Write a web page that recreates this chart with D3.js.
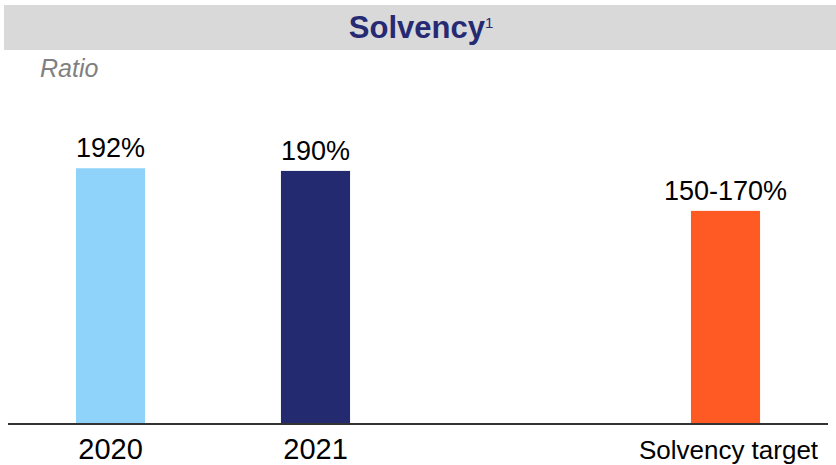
<!DOCTYPE html>
<html>
<head>
<meta charset="utf-8">
<script src="https://cdn.jsdelivr.net/npm/d3@7"></script>
<style>
  html, body { margin: 0; padding: 0; background: #ffffff; }
  svg { display: block; font-family: "Liberation Sans", Arial, sans-serif; }
</style>
</head>
<body>
<svg id="chart" width="836" height="465"></svg>
<script>
// Solvency ratio by period
const categories = ["2020", "2021", "", "Solvency target"];
const values = [192, 190, null, 160];
const valueLabels = ["192%", "190%", "", "150-170%"];
const barColors = ["#8fd3fb", "#232a70", null, "#ff5a24"];

const title = "Solvency";
const titleNote = "1";
const unitLabel = "Ratio";

const W = 836, H = 465;
const svg = d3.select("#chart");

// header band
svg.append("rect")
  .attr("x", 4).attr("y", 5)
  .attr("width", W - 4).attr("height", 45)
  .attr("fill", "#d9d9d9");

const t = svg.append("text")
  .attr("x", 421).attr("y", 38)
  .attr("text-anchor", "middle")
  .attr("fill", "#262a73")
  .style("font-weight", "bold")
  .style("font-size", "31px");
t.append("tspan").text(title);
t.append("tspan")
  .attr("dy", -10)
  .style("font-weight", "normal")
  .style("font-size", "15px")
  .text(titleNote);

svg.append("text")
  .attr("x", 40).attr("y", 77)
  .attr("fill", "#808080")
  .style("font-style", "italic")
  .style("font-size", "25px")
  .text(unitLabel);

// scales
const x = d3.scaleBand()
  .domain(categories)
  .range([8, 828])
  .paddingInner(0.663)
  .paddingOuter(0.3315);

const baseY = 424;
const y = d3.scaleLinear()
  .domain([0, 200])
  .range([baseY, baseY - 266.4]);

const data = categories.map((c, i) => ({
  cat: c, value: values[i], label: valueLabels[i], color: barColors[i]
})).filter(d => d.value != null);

// bars
svg.append("g").selectAll("rect")
  .data(data)
  .join("rect")
  .attr("x", d => x(d.cat))
  .attr("y", d => y(d.value))
  .attr("width", x.bandwidth())
  .attr("height", d => y(0) - y(d.value))
  .attr("fill", d => d.color);

// value labels
svg.append("g").selectAll("text")
  .data(data)
  .join("text")
  .attr("x", d => x(d.cat) + x.bandwidth() / 2)
  .attr("y", d => y(d.value) - 11)
  .attr("text-anchor", "middle")
  .attr("fill", "#000")
  .style("font-size", "27px")
  .text(d => d.label);

// category axis
const axis = d3.axisBottom(x).tickSize(0).tickPadding(0);
const gAxis = svg.append("g")
  .attr("transform", `translate(0,${baseY})`)
  .call(axis);
gAxis.select(".domain")
  .attr("d", `M8,0H828`)
  .attr("stroke", "#333")
  .attr("stroke-width", 2);
gAxis.selectAll(".tick text")
  .attr("y", 0)
  .attr("dy", null)
  .attr("transform", "translate(0,35)")
  .attr("fill", "#000")
  .style("font-family", "'Liberation Sans', Arial, sans-serif")
  .style("font-size", d => d === "Solvency target" ? "26px" : "29px")
  .attr("dx", d => d === "Solvency target" ? 3 : 0);
</script>
</body>
</html>
